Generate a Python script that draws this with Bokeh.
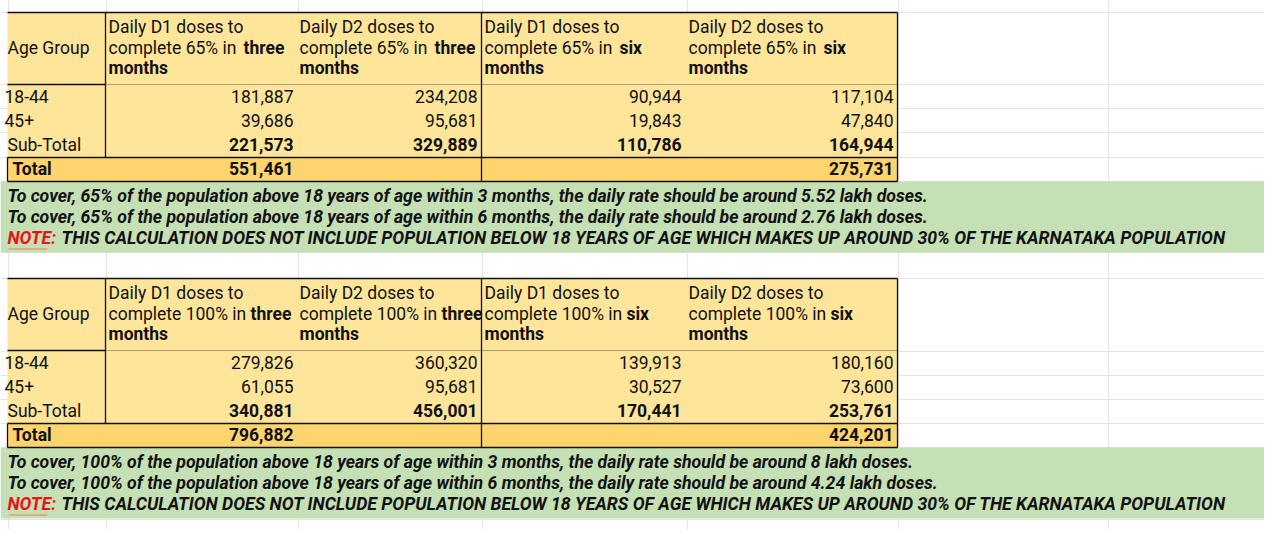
from bokeh.plotting import figure
from bokeh.models import Range1d, ColumnDataSource
from bokeh.embed import file_html
from bokeh.resources import INLINE

# ---------------- data ----------------
age_groups = ["18-44", "45+", "Sub-Total"]
col_heads_line1 = ["Daily D1 doses to", "Daily D2 doses to", "Daily D1 doses to", "Daily D2 doses to"]
bold_words = ["three", "three", "six", "six"]

pct_65 = "65%"
t65_d1_3m = [181887, 39686, 221573]
t65_d2_3m = [234208, 95681, 329889]
t65_d1_6m = [90944, 19843, 110786]
t65_d2_6m = [117104, 47840, 164944]
t65_total = [551461, 275731]

pct_100 = "100%"
t100_d1_3m = [279826, 61055, 340881]
t100_d2_3m = [360320, 95681, 456001]
t100_d1_6m = [139913, 30527, 170441]
t100_d2_6m = [180160, 73600, 253761]
t100_total = [796882, 424201]

notes_65 = [
    "To cover, 65% of the population above 18 years of age within 3 months, the daily rate should be around 5.52 lakh doses.",
    "To cover, 65% of the population above 18 years of age within 6 months, the daily rate should be around 2.76 lakh doses.",
]
notes_100 = [
    "To cover, 100% of the population above 18 years of age within 3 months, the daily rate should be around 8 lakh doses.",
    "To cover, 100% of the population above 18 years of age within 6 months, the daily rate should be around 4.24 lakh doses.",
]
note_label = "NOTE:"
note_text = "THIS CALCULATION DOES NOT INCLUDE POPULATION BELOW 18 YEARS OF AGE WHICH MAKES UP AROUND 30% OF THE KARNATAKA POPULATION"

# ---------------- style ----------------
YELLOW = "#ffe59a"
ORANGE = "#fdd46e"
GREEN = "#c5e0b4"
GRID = "#e3e3e3"
FONT = "Roboto"
TSIZE = "17.5px"
NSIZE = "17.7px"
TEXT_DY = -8

p = figure(width=1264, height=529, output_backend="svg", toolbar_location=None,
           x_range=Range1d(0, 1264), y_range=Range1d(529, 0),
           x_axis_type=None, y_axis_type=None, min_border=0,
           min_border_left=0, min_border_right=0, min_border_top=0, min_border_bottom=0)
p.outline_line_color = None
p.background_fill_color = "white"
p.border_fill_color = "white"

# faint spreadsheet grid
grid_x = [8, 106, 298, 482, 687, 898, 1108]
grid_y = [12, 84, 108, 132, 157, 181, 252, 278, 351, 375, 399, 423, 447, 519, 543]
p.segment(x0=grid_x, x1=grid_x, y0=[0] * len(grid_x), y1=[545] * len(grid_x), line_color=GRID, line_width=1)
p.segment(x0=[0] * len(grid_y), x1=[1280] * len(grid_y), y0=grid_y, y1=grid_y, line_color=GRID, line_width=1)

col_left = [108, 299, 484, 688]
col_right = [293, 477, 681, 893]


def text(xs, ys, texts, align="left", style="normal", size=TSIZE, color="#111111"):
    src = ColumnDataSource(dict(x=xs, y=[y + TEXT_DY for y in ys], t=texts))
    p.text(x="x", y="y", text="t", source=src, text_align=align, text_baseline="alphabetic",
           text_font={"value": FONT}, text_font_size=size,
           text_font_style=style, text_color=color)


def table(top, pct, bold_off, cols, totals, notes):
    # fills
    p.quad(left=[7], right=[897], top=[top], bottom=[top + 145], fill_color=YELLOW, line_color=None)
    p.quad(left=[7], right=[897], top=[top + 145], bottom=[top + 169], fill_color=ORANGE, line_color=None)
    p.quad(left=[0], right=[1280], top=[top + 169], bottom=[top + 240], fill_color=GREEN, line_color=None)
    # borders
    p.segment(x0=[105], x1=[897], y0=[top + 72], y1=[top + 72], line_color="#a89c7c", line_width=1)
    p.segment(x0=[7, 7, 7, 7, 105, 481, 897, 7],
              x1=[897, 105, 897, 897, 105, 481, 897, 7],
              y0=[top, top + 72, top + 145, top + 169, top, top, top, top + 145],
              y1=[top, top + 72, top + 145, top + 169, top + 145, top + 169, top + 169, top + 169],
              line_color="#111111", line_width=1.3)
    # header
    text([7], [top + 43], ["Age Group"])
    text(col_left, [top + 22] * 4, col_heads_line1)
    text(col_left, [top + 43] * 4, [f"complete {pct} in "] * 4)
    text([c + bold_off for c in col_left], [top + 43] * 4, bold_words, style="bold")
    text(col_left, [top + 63] * 4, ["months"] * 4, style="bold")
    # rows
    row_y = [top + 92, top + 116, top + 140]
    text([4, 4], row_y[:2], age_groups[:2])
    text([7], row_y[2:], age_groups[2:])
    for ci, vals in enumerate(cols):
        text([col_right[ci]] * 2, row_y[:2], [f"{v:,}" for v in vals[:2]], align="right")
        text([col_right[ci]], row_y[2:], [f"{vals[2]:,}"], align="right", style="bold")
    text([12], [top + 164], ["Total"], style="bold")
    text([col_right[0], col_right[3]], [top + 164] * 2, [f"{v:,}" for v in totals], align="right", style="bold")
    # notes
    text([7, 7], [top + 191, top + 212], notes, style="bold italic", size=NSIZE)
    text([7], [top + 233], [note_label], style="bold italic", size=NSIZE, color="#e8141a")
    text([61], [top + 233], [note_text], style="bold italic", size=NSIZE)
    p.segment(x0=[8], x1=[47], y0=[top + 236.5], y1=[top + 236.5], line_color="#e89a7a", line_width=1.5)


table(12, pct_65, 135, [t65_d1_3m, t65_d2_3m, t65_d1_6m, t65_d2_6m], t65_total, notes_65)
table(278, pct_100, 142, [t100_d1_3m, t100_d2_3m, t100_d1_6m, t100_d2_6m], t100_total, notes_100)

open("out.html", "w").write(file_html(p, INLINE))
